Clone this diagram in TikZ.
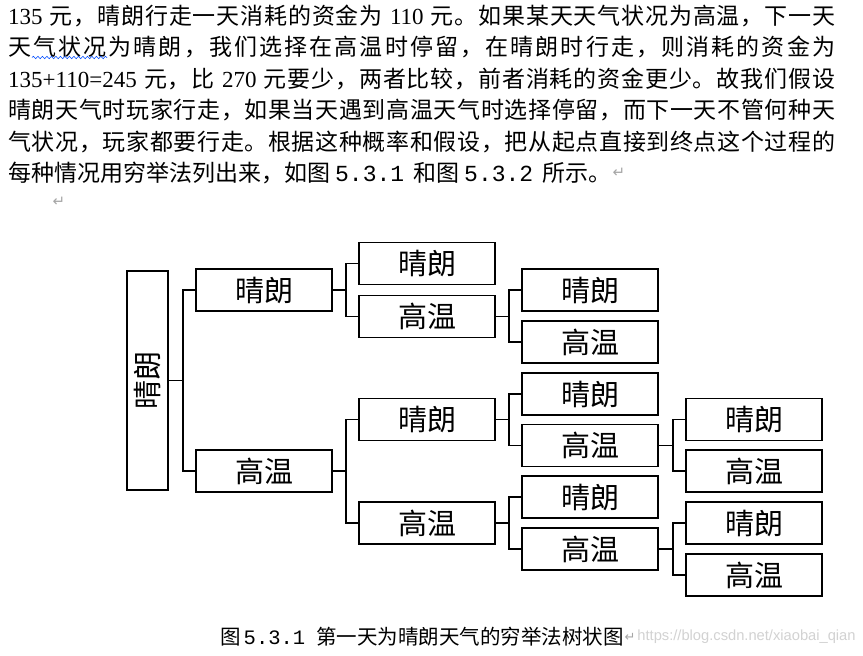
\documentclass[tikz,border=0pt]{standalone}
\usepackage{fontspec}
\usepackage{graphicx}
\usetikzlibrary{decorations.pathmorphing}
\newfontfamily\cjk{Noto Sans CJK SC}
\newfontfamily\latf{Liberation Serif}
\newfontfamily\monof{Liberation Mono}
\newfontfamily\dvs{DejaVu Sans}
\newfontfamily\arialf{Liberation Sans}
% inter-character classes for justification of CJK lines
\newcount\mycc
\mycc="4E00
\loop \XeTeXcharclass\mycc=1 \advance\mycc by 1 \ifnum\mycc<"A000 \repeat
\XeTeXcharclass"FF0C=3
\XeTeXcharclass"3002=3
\XeTeXinterchartoks 1 1 = {\hskip 0pt plus 1pt}
\XeTeXinterchartoks 1 3 = {\hskip 0pt plus 1pt}
\XeTeXinterchartoks 3 1 = {\hskip 0pt plus 1pt}
\XeTeXinterchartoks 3 3 = {\hskip 0pt plus 1pt}
\newcommand\pline[1]{\hbox to 827pt{\XeTeXinterchartokenstate=1 #1}}
\newcommand\retmark[1]{{\dvs\color{gray!70}\fontsize{#1}{#1}\selectfont ↵}}
\tikzset{
  bx/.style={draw, line width=1.7pt, minimum width=136pt, minimum height=42pt,
    inner sep=0pt, font=\cjk\fontsize{29}{32}\selectfont},
  cn/.style={line width=1.7pt},
  para/.style={anchor=west, inner sep=0pt, font=\cjk\fontsize{23}{26}\selectfont},
}
\begin{document}
\begin{tikzpicture}[x=1pt,y=-1pt]
\fill[white] (0,0) rectangle (863,656);
\useasboundingbox (0,0) rectangle (863,656);
% paragraph
\node[para] (l1) at (8,16) {\pline{{\latf 135} 元，晴朗行走一天消耗的资金为 {\latf 110} 元。如果某天天气状况为高温，下一天}};
\node[para] (l2) at (8,47) {\pline{天气状况为晴朗，我们选择在高温时停留，在晴朗时行走，则消耗的资金为}};
\node[para] (l3) at (8,79) {\pline{{\latf 135+110=245} 元，比 {\latf 270} 元要少，两者比较，前者消耗的资金更少。故我们假设}};
\node[para] (l4) at (8,110) {\pline{晴朗天气时玩家行走，如果当天遇到高温天气时选择停留，而下一天不管何种天}};
\node[para] (l5) at (8,142) {\pline{气状况，玩家都要行走。根据这种概率和假设，把从起点直接到终点这个过程的}};
\node[para] (l6) at (8,173) {每种情况用穷举法列出来，如图\hspace{5pt}{\monof 5.3.1}\hspace{9pt}和图\hspace{5pt}{\monof 5.3.2}\hspace{9pt}所示。};
\node[anchor=west, inner sep=1pt] (r6) at (l6.east) {\retmark{15}};
\node[inner sep=0pt] (r7) at (59,202) {\retmark{15}};
\draw[blue!70!cyan, line width=0.6pt, decorate, decoration={snake, amplitude=1.2pt, segment length=4.5pt}] (32,57.5) -- (107,57.5);
% tree
\node[bx, minimum width=41pt, minimum height=219pt] (r) at (147.5,380.5) {\rotatebox{90}{晴朗}};
\node[bx] (a) at (264,290) {晴朗};
\node[bx] (b) at (264,471) {高温};
\node[bx] (a1) at (427,263.5) {晴朗};
\node[bx] (a2) at (427,316.5) {高温};
\node[bx] (b1) at (427,419.5) {晴朗};
\node[bx] (b2) at (427,523) {高温};
\node[bx] (a2a) at (590,290) {晴朗};
\node[bx] (a2b) at (590,342) {高温};
\node[bx] (b1a) at (590,394) {晴朗};
\node[bx] (b1b) at (590,445.5) {高温};
\node[bx] (b2a) at (590,497) {晴朗};
\node[bx] (b2b) at (590,549) {高温};
\node[bx] (b1b1) at (754,419.5) {晴朗};
\node[bx] (b1b2) at (754,471) {高温};
\node[bx] (b2b1) at (754,523) {晴朗};
\node[bx] (b2b2) at (754,575) {高温};
\draw[cn] (r.east) -- ++(14,0) |- (a.west);
\draw[cn] (r.east) -- ++(14,0) |- (b.west);
\draw[cn] (a.east) -- ++(13,0) |- (a1.west);
\draw[cn] (a.east) -- ++(13,0) |- (a2.west);
\draw[cn] (b.east) -- ++(13,0) |- (b1.west);
\draw[cn] (b.east) -- ++(13,0) |- (b2.west);
\draw[cn] (a2.east) -- ++(13,0) |- (a2a.west);
\draw[cn] (a2.east) -- ++(13,0) |- (a2b.west);
\draw[cn] (b1.east) -- ++(13,0) |- (b1a.west);
\draw[cn] (b1.east) -- ++(13,0) |- (b1b.west);
\draw[cn] (b2.east) -- ++(13,0) |- (b2a.west);
\draw[cn] (b2.east) -- ++(13,0) |- (b2b.west);
\draw[cn] (b1b.east) -- ++(14,0) |- (b1b1.west);
\draw[cn] (b1b.east) -- ++(14,0) |- (b1b2.west);
\draw[cn] (b2b.east) -- ++(14,0) |- (b2b1.west);
\draw[cn] (b2b.east) -- ++(14,0) |- (b2b2.west);
% caption
\node[anchor=west, inner sep=0pt, font=\cjk\fontsize{20.5}{23}\selectfont] (cap) at (220,637) {图\hspace{3pt}{\monof 5.3.1}\hspace{11pt}第一天为晴朗天气的穷举法树状图};
\node[anchor=west, inner sep=0.5pt] (rc) at (cap.east) {\retmark{13}};
\node[anchor=west, inner sep=0pt, text=gray!35, font=\arialf\fontsize{14.7}{17}\selectfont] (wm) at ([xshift=1pt]rc.east) {https://blog.csdn.net/xiaobai\_qian};
\end{tikzpicture}
\end{document}
